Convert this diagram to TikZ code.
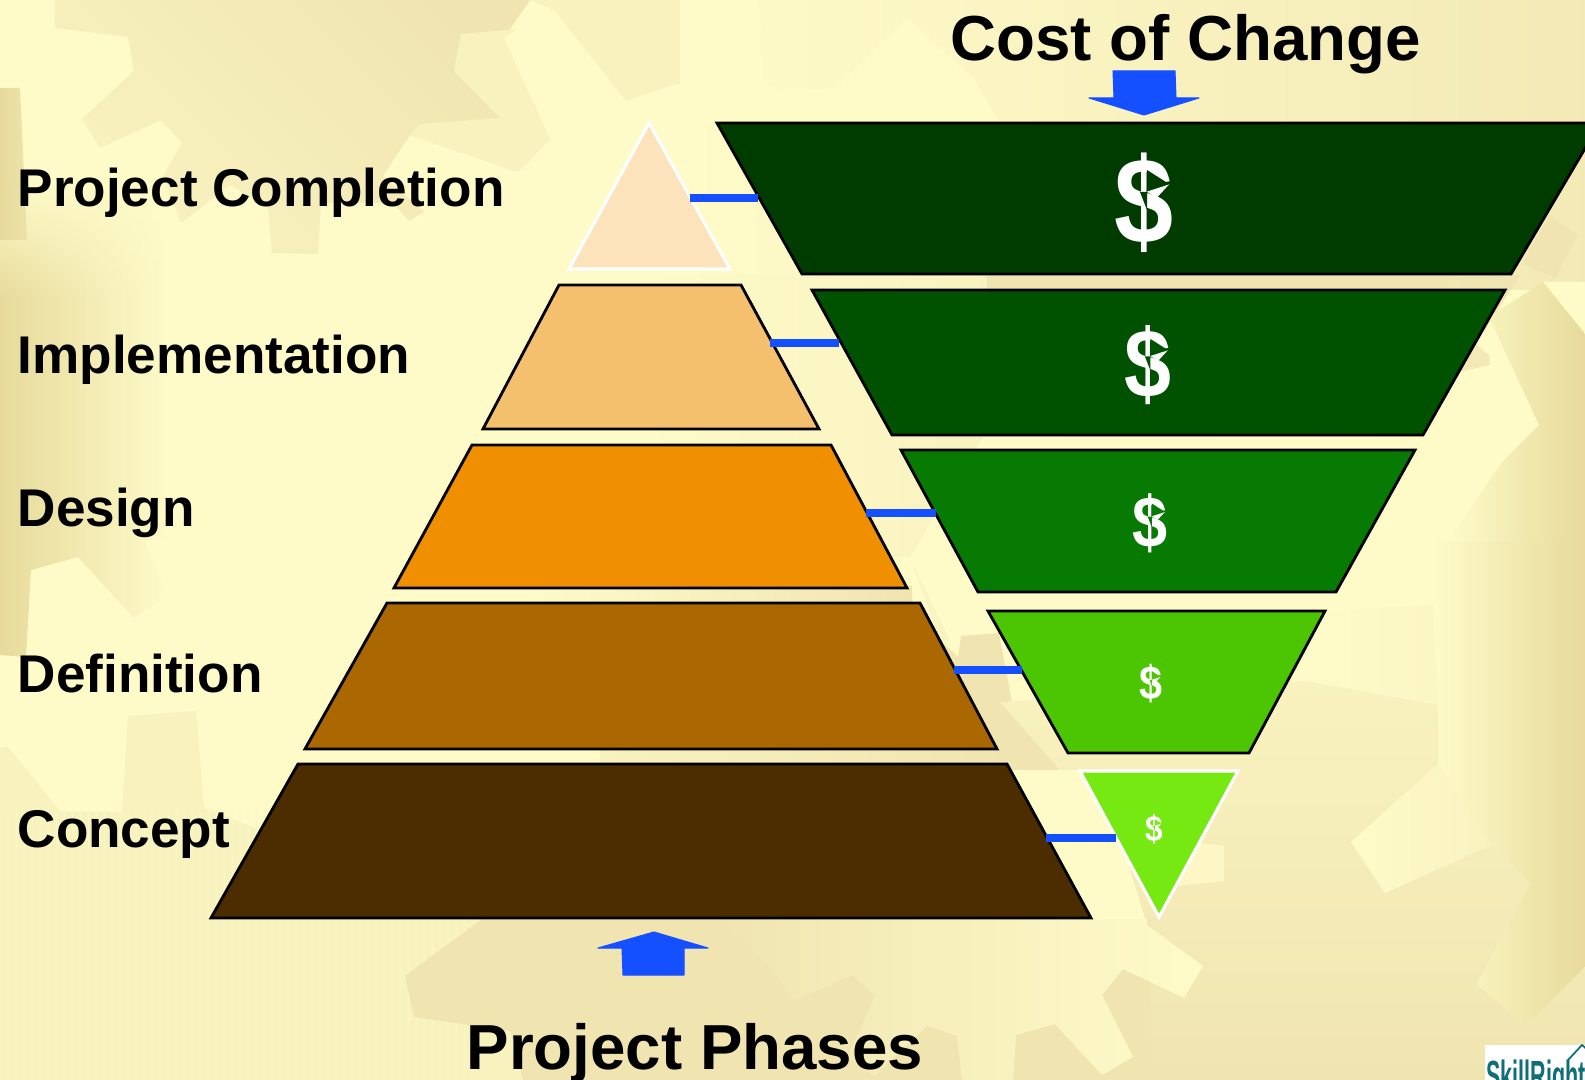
\documentclass[tikz,border=0pt]{standalone}
\usepackage{fontspec}
\usetikzlibrary{fadings}
\setmainfont{Liberation Sans}
\definecolor{bglight}{HTML}{FEFBC9}
\definecolor{bgmid}{HTML}{F8F2BF}
\definecolor{bgdark}{HTML}{F0E5B1}
\definecolor{bgedge}{HTML}{E7DA9B}
\definecolor{arrowblue}{HTML}{1450FF}
\definecolor{pone}{HTML}{FCE3BC}
\definecolor{ptwo}{HTML}{F5C06E}
\definecolor{pthree}{HTML}{F09000}
\definecolor{pfour}{HTML}{AB6800}
\definecolor{pfive}{HTML}{4B2D00}
\definecolor{tone}{HTML}{003C00}
\definecolor{ttwo}{HTML}{005200}
\definecolor{tthree}{HTML}{067A03}
\definecolor{tfour}{HTML}{4CC502}
\definecolor{tfive}{HTML}{77E912}
\definecolor{logoteal}{HTML}{0F6E78}
\tikzset{
  tier/.style={draw=black,line width=.8pt,line join=miter},
  whitetier/.style={draw=white,line width=.9pt,line join=miter},
  link/.style={draw=arrowblue,line width=2.4pt},
  bigarrow/.style={fill=arrowblue,draw=arrowblue,line width=.3pt,line join=round},
  phase/.style={anchor=base west,inner sep=0pt,text=black,font=\bfseries\fontsize{15.1pt}{18pt}\selectfont},
  heading/.style={anchor=base west,inner sep=0pt,text=black,font=\bfseries\fontsize{18.1pt}{20pt}\selectfont},
}
\newcommand{\dollarmark}[6]{% name, x, y, font size, scale, colour
  \begin{scope}[shift={(#2,#3)},scale=#5]
    \node[inner sep=0pt,text=white,xscale=.87,font=\bfseries\fontsize{#4}{#4}\selectfont] (#1) at (0,0) {\$};
    \fill[#6] (2.7,-11.3) -- (25,-19) -- (3,-33) -- cycle;
    \fill[#6] (-4,-11) -- (3,-11) -- (3,7) -- cycle;
    \fill[white] (2.7,-11.3) -- (25,-18.5) -- (13,-5.5) -- cycle;
  \end{scope}
}
\begin{document}
\begin{tikzpicture}[x=0.01cm,y=-0.01cm]
\useasboundingbox (0,0) rectangle (1585,1080);
\clip (0,0) rectangle (1585,1080);
% ---- background
\fill[bglight] (0,0) rectangle (1585,1080);
% top band
\shade[left color=bglight,right color=bgdark!80!bglight] (680,0) rectangle (1585,290);
\fill[bglight] (680,0) -- (759,0) -- (764,84) -- (785,90) -- (836,88) -- (907,18) -- (975,80) -- (1000,125) -- (640,125) -- cycle;
\fill[bgmid] (550,0) rectangle (680,84);
% big gear top-left
\shade[left color=bgmid,right color=bgdark,shading angle=135]
 (55,0) -- (55,28) -- (128,37) -- (134,71) -- (82,119) -- (100,148) -- (161,120) -- (182,143) -- (163,176) -- (181,223) -- (230,185)
 -- (268,207) -- (272,253) -- (318,254) -- (321,203) -- (393,203) -- (409,221) -- (424,212) -- (383,176) -- (410,135) -- (518,172) -- (550,139)
 -- (504,38) -- (530,0) -- cycle;
\fill[bgmid] (461,34) -- (518,29) -- (504,38) -- (550,139) -- (518,172) -- (410,135) -- (420,124) -- (500,118) -- (454,71) -- cycle;
\fill[bgmid] (554,10) -- (626,101) -- (676,84) -- (680,0) -- (530,0) -- cycle;
\fill[bglight] (504,38) -- (554,10) -- (626,101) -- (600,115) -- (550,139) -- cycle;
% left edge
\shade[left color=bgedge,right color=bgedge!70!bglight] (0,88) -- (20,88) -- (27,240) -- (0,240) -- cycle;
\shade[left color=bgedge,right color=bglight,path fading=north] (0,180) rectangle (170,300);
\shade[left color=bgedge,right color=bglight] (0,300) -- (170,300) -- (170,540) -- (143,540) -- (168,595) -- (134,618) -- (78,557) -- (31,570) -- (26,657) -- (0,655) -- cycle;
% bottom-left
\fill[bgmid] (128,716) -- (196,711) -- (204,808) -- (122,812) -- cycle;
\fill[bgmid] (0,748) -- (8,747) -- (61,812) -- (122,812) -- (204,808) -- (260,830) -- (211,918) -- (482,919) -- (405,976) -- (414,1017) -- (510,1031) -- (523,1080) -- (0,1080) -- cycle;
\begin{scope}
  \clip (0,812) rectangle (470,1080);
  \draw[bglight!50!bgmid,line width=.15pt,step=8] (0,808) grid (480,1080);
\end{scope}
% centre band
\shade[left color=bglight,middle color=bgdark,right color=bgdark] (640,275) -- (1520,275) -- (1458,372) -- (1423,437) -- (983,437) -- (983,640) -- (940,640) -- (910,557) -- (640,557) -- cycle;
\fill[bgdark] (987,275) rectangle (1448,292);
\fill[bglight] (983,437) -- (1423,437) -- (1503,461) -- (1539,425) -- (1489,317) -- (1543,282) -- (1585,334) -- (1585,540) -- (1448,540) -- (1433,605) -- (1305,612) -- (1305,681) -- (1000,700) -- (958,657) -- (910,557) -- cycle;
\fill[bgdark] (958,657) -- (961,636) -- (999,633) -- (1012,702) -- (1040,709) -- (1068,753) -- (1060,770) -- (960,770) -- (940,640) -- cycle;
\shade[left color=bglight,right color=bgdark] (520,587) rectangle (912,604);
\shade[left color=bgmid,right color=bgdark] (600,748) rectangle (1010,765);
\fill[bgdark] (1550,215) -- (1578,236) -- (1555,278) -- (1522,263) -- cycle;
\fill[bglight] (1543,282) -- (1585,282) -- (1585,334) -- cycle;
\fill[bgdark!70!bgmid] (1489,355) -- (1490,365) -- (1458,372) -- (1470,340) -- cycle;
% right edge
\shade[left color=bglight,right color=bgedge] (1433,540) -- (1585,540) -- (1585,967) -- (1525,1026) -- (1476,984) -- (1530,884) -- (1492,845) -- (1438,764) -- (1433,605) -- cycle;
\shade[left color=bglight,right color=bgedge] (1543,282) -- (1585,334) -- (1585,541) -- (1448,541) -- (1503,461) -- (1539,425) -- (1489,317) -- cycle;
% bottom-right dark region
\shade[left color=bglight,right color=bglight!50!bgmid] (1305,612) -- (1433,605) -- (1438,705) -- (1305,681) -- cycle;
\shade[top color=bgmid,middle color=bgdark,bottom color=bgdark] (1000,702) -- (1305,681) -- (1438,705) -- (1438,764) -- (1351,842) -- (1385,893) -- (1492,845) -- (1530,884) -- (1476,984) -- (1525,1026) -- (1585,967) -- (1585,1080) -- (1147,1080) -- (1147,925) -- (1100,770) -- (1060,770) -- cycle;
\fill[bgdark] (482,919) -- (1150,919) -- (1150,1080) -- (523,1080) -- (510,1031) -- (414,1017) -- (405,976) -- cycle;
\shade[left color=bglight,right color=bgmid] (1351,842) -- (1438,764) -- (1492,845) -- (1385,893) -- cycle;
\fill[bglight!60!bgmid] (1198,843) -- (1224,846) -- (1224,881) -- (1178,886) -- cycle;
\shade[left color=bgdark,right color=bglight] (720,919) -- (1147,919) -- (1147,925) -- (1203,966) -- (1184,998) -- (1123,969) -- (1102,995) -- (1133,1057) -- (1102,1075) -- (1055,1024) -- (1016,1035) -- (1013,1080) -- (962,1080) -- (957,1036) -- (927,1026) -- (874,1076) -- (847,1057) -- (875,996) -- (852,975) -- (794,1001) -- (775,974) -- cycle;
% ---- pyramid
\filldraw[whitetier,fill=pone] (649,123) -- (730,269) -- (569,269) -- cycle;
\filldraw[tier,fill=ptwo] (559,285) -- (741,285) -- (819,429) -- (483,429) -- cycle;
\filldraw[tier,fill=pthree] (472,445) -- (831,445) -- (907,588) -- (394,588) -- cycle;
\filldraw[tier,fill=pfour] (387,603) -- (920,603) -- (997,749) -- (305,749) -- cycle;
\filldraw[tier,fill=pfive] (298,764) -- (1007,764) -- (1091,918) -- (211,918) -- cycle;
% ---- inverted pyramid
\filldraw[tier,fill=tone] (717,123) -- (1600,123) -- (1511,274) -- (802,274) -- cycle;
\filldraw[tier,fill=ttwo] (812,290) -- (1505,290) -- (1423,435) -- (892,435) -- cycle;
\filldraw[tier,fill=tthree] (901,450) -- (1415,450) -- (1336,592) -- (978,592) -- cycle;
\filldraw[tier,fill=tfour] (988,611) -- (1325,611) -- (1249,753) -- (1068,753) -- cycle;
\filldraw[whitetier,fill=tfive] (1080,771) -- (1238,771) -- (1159,917) -- cycle;
% ---- connectors
\coordinate (la1) at (690,198); \coordinate (ra1) at (758,198);
\coordinate (la2) at (770,343); \coordinate (ra2) at (839,343);
\coordinate (la3) at (866,513); \coordinate (ra3) at (936,513);
\coordinate (la4) at (954,670); \coordinate (ra4) at (1022,670);
\coordinate (la5) at (1046,838); \coordinate (ra5) at (1116,838);
\draw[link] (la1) -- (ra1);
\draw[link] (la2) -- (ra2);
\draw[link] (la3) -- (ra3);
\draw[link] (la4) -- (ra4);
\draw[link] (la5) -- (ra5);
% ---- dollars
\dollarmark{d1}{1144}{203}{34.7pt}{1}{tone}
\dollarmark{d2}{1148}{365}{27.6pt}{.79}{ttwo}
\dollarmark{d3}{1150}{523}{20.6pt}{.59}{tthree}
\dollarmark{d4}{1151}{684}{13.5pt}{.38}{tfour}
\dollarmark{d5}{1154}{829}{10.3pt}{.29}{tfive}
% ---- arrows
\filldraw[bigarrow] (1113,71) -- (1175,71) -- (1176,98) -- (1199,98) -- (1144,115) -- (1089,98) -- (1114,98) -- cycle;
\filldraw[bigarrow] (654,932) -- (708,948) -- (684,948) -- (684,975) -- (623,975) -- (622,948) -- (598,948) -- cycle;
% ---- text
\node[phase] (t1) at (17,207) {Project Completion};
\node[phase] (t2) at (17,374) {Implementation};
\node[phase] (t3) at (17,527) {Design};
\node[phase] (t4) at (17,693) {Definition};
\node[phase] (t5) at (17,847) {Concept};
\node[heading] (cost) at (950,61) {Cost of Change};
\node[heading] (phases) at (466,1069) {Project Phases};
% ---- logo
\fill[white] (1485,1045) rectangle (1585,1080);
\node[anchor=base west,inner sep=0pt,text=logoteal,xscale=.51,font=\bfseries\fontsize{12pt}{12pt}\selectfont] (logo) at (1486,1090) {SkillRight};
\draw[logoteal,line width=.5pt] (1568,1060) -- (1582,1045) -- (1590,1052);
\end{tikzpicture}
\end{document}
